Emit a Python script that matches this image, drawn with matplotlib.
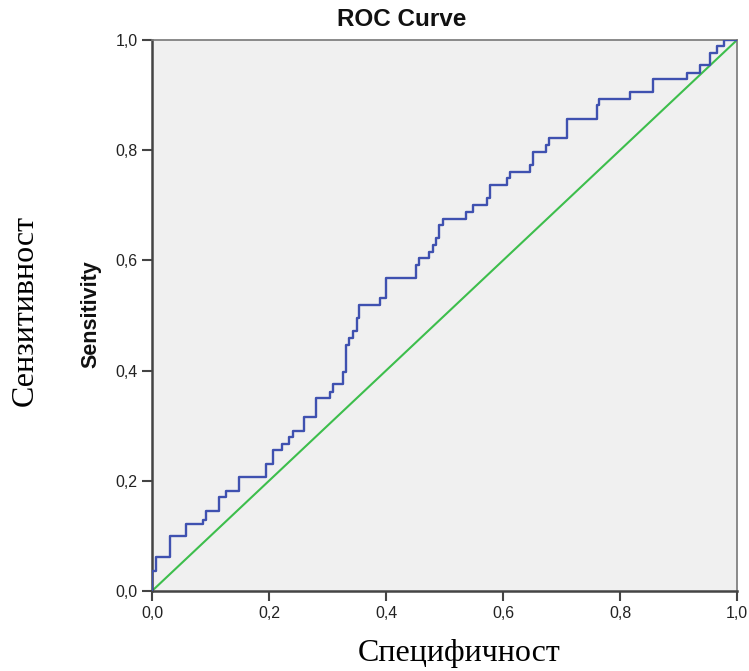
from matplotlib import pyplot as plt

# точки ROC кривой (1 - специфичност, сензитивност), прочетени от картинката
fpr = [0.0, 0.0, 0.007, 0.031, 0.058, 0.088, 0.092, 0.115, 0.126, 0.149,
       0.195, 0.206, 0.223, 0.235, 0.241, 0.259, 0.280, 0.304, 0.309, 0.326,
       0.332, 0.337, 0.343, 0.350, 0.354, 0.389, 0.400, 0.451, 0.457, 0.474,
       0.480, 0.485, 0.491, 0.497, 0.537, 0.548, 0.572, 0.577, 0.606, 0.612,
       0.646, 0.651, 0.674, 0.679, 0.709, 0.760, 0.764, 0.817, 0.857, 0.914,
       0.937, 0.954, 0.965, 0.977, 1.0]
tpr = [0.0, 0.037, 0.062, 0.099, 0.122, 0.129, 0.146, 0.170, 0.182, 0.206,
       0.230, 0.255, 0.267, 0.279, 0.291, 0.315, 0.350, 0.362, 0.375, 0.398,
       0.446, 0.459, 0.471, 0.495, 0.519, 0.531, 0.568, 0.592, 0.604, 0.616,
       0.628, 0.640, 0.664, 0.676, 0.688, 0.701, 0.713, 0.737, 0.749, 0.761,
       0.773, 0.797, 0.809, 0.822, 0.856, 0.882, 0.893, 0.905, 0.929, 0.941,
       0.955, 0.977, 0.989, 1.0, 1.0]

ref_line = [0.0, 1.0]
ticks = [0.0, 0.2, 0.4, 0.6, 0.8, 1.0]
tick_labels = ['0,0', '0,2', '0,4', '0,6', '0,8', '1,0']

plt.rcParams['font.family'] = ['Liberation Sans', 'DejaVu Sans']

fig = plt.figure(figsize=(7.49, 6.71), dpi=100)
ax = fig.add_axes([152 / 749, 80 / 671, 585 / 749, 551 / 671])
ax.set_facecolor('#F0F0F0')

ax.plot(ref_line, ref_line, color='#3DBE4C', linewidth=1.5, zorder=2)
ax.plot(fpr, tpr, drawstyle='steps-post', color='#3F51B0', linewidth=1.7, zorder=3)

ax.set_xlim(0, 1)
ax.set_ylim(0, 1)
ax.set_xticks(ticks)
ax.set_xticklabels(tick_labels)
ax.set_yticks(ticks)
ax.set_yticklabels(tick_labels)
ax.tick_params(length=7.5, width=1.5, color='#444444', labelsize=11.5,
               labelcolor='#222222', pad=3)

for side in ['left', 'bottom']:
    ax.spines[side].set_color('#444444')
    ax.spines[side].set_linewidth(1.8)
for side in ['top', 'right']:
    ax.spines[side].set_color('#777777')
    ax.spines[side].set_linewidth(1.2)

# надписи от SPSS
fig.text(402 / 749, 1 - 20 / 671, 'ROC Curve', ha='center', va='center',
         fontsize=17.5, fontweight='bold', color='#111111')
fig.text(91 / 749, 1 - 314 / 671, 'Sensitivity', ha='center', va='center',
         rotation=90, fontsize=15.5, fontweight='bold', color='#111111')

# външни надписи на български
fig.text(25 / 749, 1 - 310 / 671, 'Сензитивност', ha='center', va='center',
         rotation=90, fontsize=23, family='Liberation Serif', color='black')
fig.text(459 / 749, 1 - 653 / 671, 'Специфичност', ha='center', va='center',
         fontsize=23, family='Liberation Serif', color='black')

fig.savefig('out.png', dpi=100)
